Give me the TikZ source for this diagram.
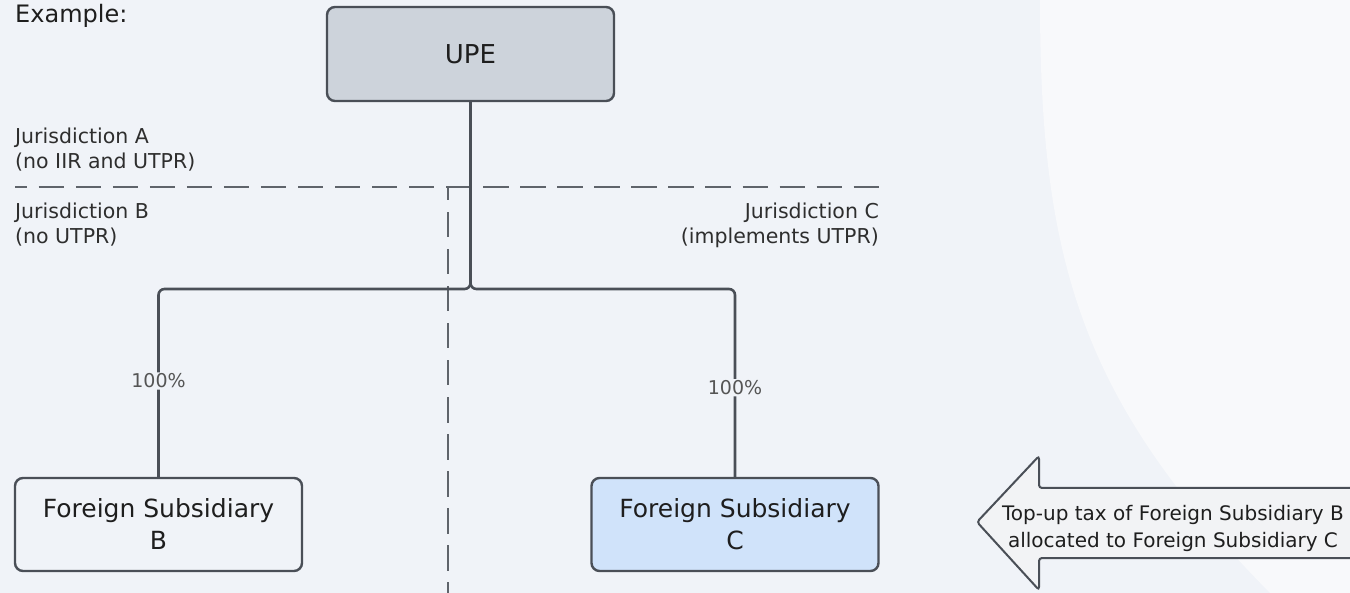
\documentclass[tikz,border=0pt]{standalone}
\usepackage{fontspec}
\setmainfont{DejaVu Sans}
\definecolor{bg}{HTML}{F0F3F8}
\definecolor{bgl}{HTML}{F8F9FB}
\definecolor{edge}{HTML}{4A4F57}
\definecolor{upefill}{HTML}{CDD3DB}
\definecolor{cfill}{HTML}{D0E3FA}
\definecolor{txt}{HTML}{1E1E1E}
\definecolor{lbl}{HTML}{2E2E2E}
\definecolor{pct}{HTML}{555555}
\definecolor{dashc}{HTML}{5F646B}
\definecolor{arrfill}{HTML}{F2F3F5}
\begin{document}
\begin{tikzpicture}[x=1pt,y=-1pt,
  entity/.style={draw=edge, line width=2.4pt, rounded corners=8pt,
    minimum width=287pt, minimum height=93pt, align=center, text=txt,
    font=\fontsize{25}{32}\selectfont, inner sep=0pt},
  conn/.style={draw=edge, line width=2.6pt, rounded corners=6pt},
  pctlbl/.style={fill=bg, text=pct, font=\fontsize{19}{23}\selectfont, inner sep=1.5pt},
  divider/.style={draw=dashc, line width=1.3pt, dash pattern=on 25.3pt off 11.74pt},
  juris/.style={text=lbl, font=\fontsize{20.5}{25}\selectfont, inner sep=0pt},
  bigarrow/.style={draw=edge, fill=arrfill, line width=2pt, rounded corners=3pt}]
\useasboundingbox (0,0) rectangle (1350,593);
% background
\fill[bg] (0,0) rectangle (1350,593);
\fill[bgl] (1040,0) .. controls (1040,260) and (1080,400) .. (1270,593) -- (1350,593) -- (1350,0) -- cycle;

% jurisdiction dividers
\coordinate (dl) at (15,187);
\coordinate (dr) at (879,187);
\coordinate (vt) at (448,187);
\coordinate (vb) at (448,600);
\draw[divider, dash phase=13.3pt] (dl) -- (dr);
\draw[divider, dash phase=12pt] (vt) -- (vb);

% texts
\node[anchor=north west, text=txt, font=\fontsize{24}{28}\selectfont, inner sep=0pt] (ex) at (15,4) {Example:};
\node[juris, anchor=north west, align=left] (ja) at (15,128) {Jurisdiction A\\(no IIR and UTPR)};
\node[juris, anchor=north west, align=left] (jb) at (15,203) {Jurisdiction B\\(no UTPR)};
\node[juris, anchor=north east, align=right] (jc) at (879,203) {Jurisdiction C\\(implements UTPR)};

% entities
\node[entity, fill=upefill, minimum height=94pt, font=\fontsize{26}{30}\selectfont] (upe) at (470.5,54) {UPE};
\node[entity, fill=bg] (b) at (158.5,524.5) {Foreign Subsidiary\\B};
\node[entity, fill=cfill] (c) at (735,524.5) {Foreign Subsidiary\\C};

% connectors
\coordinate (j) at (470.5,289);
\draw[conn] (upe.south) -- (j) -| node[pctlbl, pos=0.745] (pb) {100\%} (b.north);
\draw[conn] (upe.south) -- (j) -| node[pctlbl, pos=0.763] (pc) {100\%} (c.north);

% allocation arrow
\draw[bigarrow] (1039,488) -- (1039,456) -- (977,522) -- (1039,590) -- (1039,558) -- (1362,558) -- (1362,488) -- cycle;
\node[text=txt, align=center, font=\fontsize{20}{27}\selectfont, inner sep=0pt] (at) at (1173,528)
  {Top-up tax of Foreign Subsidiary B\\allocated to Foreign Subsidiary C};
\end{tikzpicture}
\end{document}
